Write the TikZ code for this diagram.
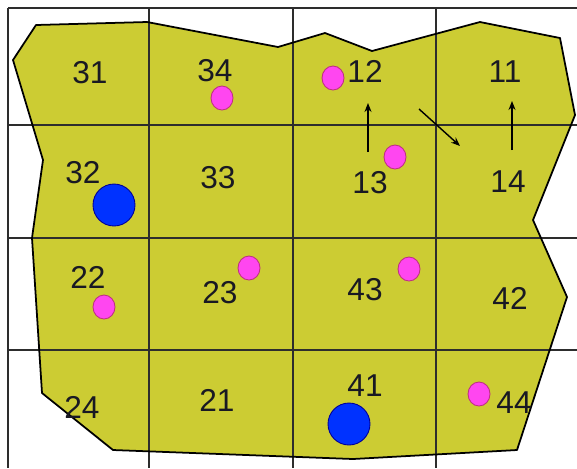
\documentclass[tikz,border=0pt]{standalone}
\usepackage{fontspec}
\setmainfont{Liberation Sans}
\usetikzlibrary{arrows.meta,shapes.geometric}
\definecolor{mapYellow}{RGB}{204,204,51}
\definecolor{gridGray}{RGB}{45,45,45}
\definecolor{dotPink}{RGB}{255,70,240}
\definecolor{dotBlue}{RGB}{0,50,255}
\definecolor{numInk}{RGB}{25,25,35}
\begin{document}
\begin{tikzpicture}[
  x=0.02cm, y=-0.02cm,
  num/.style={text=numInk, inner sep=0pt, font=\fontsize{18}{20}\selectfont},
  pinkdot/.style={ellipse, draw=magenta!75!black, fill=dotPink, line width=0.5pt, minimum width=0.44cm, minimum height=0.48cm, inner sep=0pt},
  bluedot/.style={circle, draw=blue!60!black, fill=dotBlue, line width=0.5pt, minimum size=0.84cm, inner sep=0pt},
  arr/.style={-{Stealth[length=1.8mm,width=1.4mm]}, line width=0.8pt},
]
\useasboundingbox (0,0) rectangle (577,468);
% area
\fill[mapYellow] (36,25) -- (147,22) -- (278,47) -- (325,33) -- (372,51) -- (480,22) -- (560,38)
  -- (575,115) -- (533,220) -- (567,297) -- (517,450) -- (353,459) -- (113,450) -- (42,393)
  -- (32,238) -- (43,160) -- (13,60) -- cycle;
% grid
\draw[gridGray, line width=0.85pt] (8,8) -- (577,8);
\draw[gridGray, line width=0.85pt] (8,125) -- (577,125);
\draw[gridGray, line width=0.85pt] (8,238) -- (577,238);
\draw[gridGray, line width=0.85pt] (8,350) -- (577,350);
\draw[gridGray, line width=0.85pt] (8,8) -- (8,468);
\draw[gridGray, line width=0.85pt] (149,8) -- (149,468);
\draw[gridGray, line width=0.85pt] (293,8) -- (293,468);
\draw[gridGray, line width=0.85pt] (436,8) -- (436,468);
% outline
\draw[black, line width=1pt, line join=round] (36,25) -- (147,22) -- (278,47) -- (325,33) -- (372,51) -- (480,22) -- (560,38)
  -- (575,115) -- (533,220) -- (567,297) -- (517,450) -- (353,459) -- (113,450) -- (42,393)
  -- (32,238) -- (43,160) -- (13,60) -- cycle;
% cells
\node[num] (c31) at (90,73) {31};
\node[num] (c34) at (215,71) {34};
\node[num] (c12) at (365,71) {12};
\node[num] (c11) at (505,72) {11};
\node[num] (c32) at (83,173) {32};
\node[num] (c33) at (218,178) {33};
\node[num] (c13) at (370,183) {13};
\node[num] (c14) at (508,182) {14};
\node[num] (c22) at (88,277) {22};
\node[num] (c23) at (220,293) {23};
\node[num] (c43) at (365,290) {43};
\node[num] (c42) at (510,298) {42};
\node[num] (c24) at (82,407) {24};
\node[num] (c21) at (217,400) {21};
\node[num] (c41) at (365,386) {41};
\node[num] (c44) at (514,403) {44};
% dots
\node[pinkdot] (p34) at (222,98) {};
\node[pinkdot] (p12) at (333,78) {};
\node[pinkdot] (p13) at (395,157) {};
\node[pinkdot] (p22) at (104,307) {};
\node[pinkdot] (p23) at (249,268) {};
\node[pinkdot] (p43) at (409,269) {};
\node[pinkdot] (p44) at (479,394) {};
\node[bluedot] (b32) at (114,205) {};
\node[bluedot] (b41) at (349,424) {};
% moves
\coordinate (m1a) at (368,152);
\coordinate (m1b) at (368,103);
\coordinate (m2a) at (419,109);
\coordinate (m2b) at (460,146);
\coordinate (m3a) at (512,150);
\coordinate (m3b) at (512,101);
\draw[arr] (m1a) -- (m1b);
\draw[arr] (m2a) -- (m2b);
\draw[arr] (m3a) -- (m3b);
\end{tikzpicture}
\end{document}
